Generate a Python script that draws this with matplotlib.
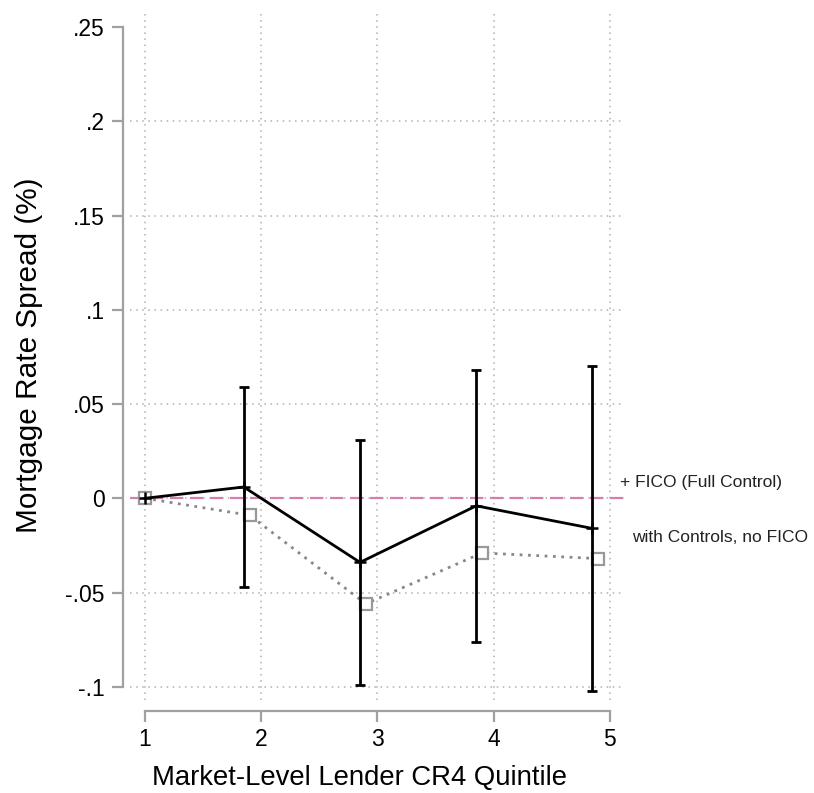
import numpy as np
import matplotlib.pyplot as plt

plt.rcParams['font.family'] = ['Liberation Sans', 'DejaVu Sans']

# full control (+ FICO) estimates and 95% CIs
x_full = [1.0, 1.85, 2.85, 3.85, 4.85]
y_full = [0.0, 0.006, -0.034, -0.004, -0.016]
ci_lo = [0.0, -0.047, -0.099, -0.076, -0.102]
ci_hi = [0.0, 0.059, 0.031, 0.068, 0.070]

# with controls, no FICO
x_nofico = [1.0, 1.9, 2.9, 3.9, 4.9]
y_nofico = [0.0, -0.009, -0.056, -0.029, -0.032]

xticks = [1, 2, 3, 4, 5]
yticks = [-0.1, -0.05, 0, 0.05, 0.1, 0.15, 0.2, 0.25]
ylabels = ['-.1', '-.05', '0', '.05', '.1', '.15', '.2', '.25']

fig = plt.figure(figsize=(8.14, 7.93), dpi=100)
ax = fig.add_axes([0.1597, 0.1173, 0.608, 0.870])

ax.set_xlim(0.871, 5.129)
ax.set_ylim(-0.107, 0.259)

# grid
for xv in xticks:
    ax.axvline(xv, color='#b0b0b0', ls=(0, (1, 3)), lw=1.1, zorder=0)
for yv in yticks[:-1]:
    ax.axhline(yv, color='#b0b0b0', ls=(0, (1, 3)), lw=1.1, zorder=0)

ax.axhline(0, color='#d47fb0', ls=(0, (6, 3)), lw=1.6, zorder=1)

# no FICO series
ax.plot(x_nofico, y_nofico, color='#888888', ls=(0, (1, 2)), lw=2, zorder=2)
ax.plot(x_nofico, y_nofico, ls='none', marker='s', ms=8, mfc='white',
        mec='#999999', mew=1.6, zorder=3)

# full control series
yerr = [np.array(y_full) - np.array(ci_lo), np.array(ci_hi) - np.array(y_full)]
ax.errorbar(x_full[1:], y_full[1:], yerr=[yerr[0][1:], yerr[1][1:]], fmt='none',
            ecolor='black', elinewidth=2, capsize=3.8, capthick=2, zorder=4)
ax.plot(x_full, y_full, color='black', lw=2, marker='+', ms=9, mew=1.8, zorder=5)

for s in ['top', 'right']:
    ax.spines[s].set_visible(False)
ax.spines['left'].set_position(('outward', 5))
ax.spines['left'].set_bounds(-0.1, 0.25)
ax.spines['bottom'].set_position(('outward', 8))
ax.spines['bottom'].set_bounds(1, 5)
for s in ['left', 'bottom']:
    ax.spines[s].set_color('#a0a0a0')
    ax.spines[s].set_linewidth(1.6)

ax.set_xticks(xticks)
ax.set_yticks(yticks)
ax.set_yticklabels(ylabels)
ax.tick_params(axis='both', colors='#a0a0a0', labelcolor='black', labelsize=16.5,
               width=1.6, length=8)
ax.tick_params(axis='y', pad=5)
ax.tick_params(axis='x', pad=4)

ax.set_xlabel('Market-Level Lender CR4 Quintile', fontsize=19.8)
ax.xaxis.set_label_coords(0.463, -0.094)
ax.set_ylabel('Mortgage Rate Spread (%)', fontsize=21.4, labelpad=16)

fig.text(620 / 814, 1 - 482 / 793, '+ FICO (Full Control)', fontsize=12.5,
         va='center', ha='left', color='#222222')
fig.text(632 / 814, 1 - 537 / 793, 'with Controls, no FICO', fontsize=12.5,
         va='center', ha='left', color='#222222')

fig.savefig('out.png', dpi=100)
